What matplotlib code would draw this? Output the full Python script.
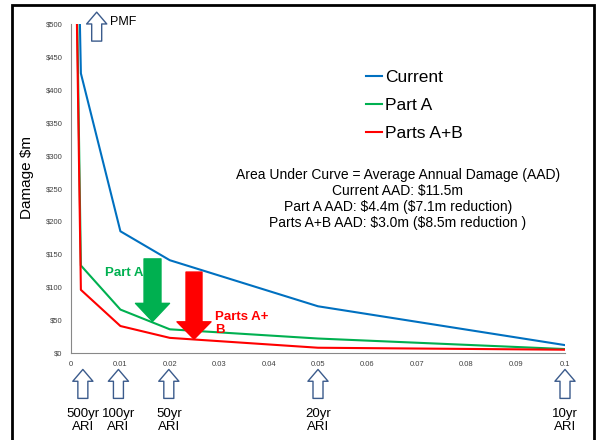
import matplotlib.pyplot as plt
from matplotlib.patches import Rectangle

plt.rcParams['font.family'] = ['Liberation Sans', 'DejaVu Sans']
plt.rcParams['text.parse_math'] = False

# exceedance probability (first point = PMF, off the top of the chart)
aep = [0.0001, 0.002, 0.01, 0.02, 0.05, 0.1]
current = [1140, 425, 185, 141, 71, 12]
part_a = [1100, 133, 66, 36, 22, 6]
parts_ab = [1056, 96, 41, 23, 8, 5]

xticks = [0, 0.01, 0.02, 0.03, 0.04, 0.05, 0.06, 0.07, 0.08, 0.09, 0.1]
xticklabels = ['0', '0.01', '0.02', '0.03', '0.04', '0.05', '0.06', '0.07', '0.08', '0.09', '0.1']
yticks = list(range(0, 501, 50))
yticklabels = ['$' + str(v) for v in yticks]

ari_x = [0.0024, 0.0096, 0.0198, 0.05, 0.1]
ari_labels = ['500yr\nARI', '100yr\nARI', '50yr\nARI', '20yr\nARI', '10yr\nARI']

blue = '#0070c0'
green = '#00b050'
red = '#ff0000'
navy = '#3b5b8c'

fig = plt.figure(figsize=(5.96, 4.40), dpi=100)
ax = fig.add_axes([71 / 596, 1 - 353 / 440, 494 / 596, 329 / 440])

ax.plot(aep, current, color=blue, lw=1.5, label='Current')
ax.plot(aep, part_a, color=green, lw=1.5, label='Part A')
ax.plot(aep, parts_ab, color=red, lw=1.5, label='Parts A+B')

ax.set_xlim(0, 0.1)
ax.set_ylim(0, 500)
ax.set_xticks(xticks)
ax.set_xticklabels(xticklabels)
ax.set_yticks(yticks)
ax.set_yticklabels(yticklabels)
ax.tick_params(length=0, labelsize=5.5, labelcolor='#404040')
ax.tick_params(axis='y', pad=6)
ax.tick_params(axis='x', pad=6)
for s in ['top', 'right']:
    ax.spines[s].set_visible(False)
for s in ['left', 'bottom']:
    ax.spines[s].set_color('#888888')

fig.text(27 / 596, 1 - 177 / 440, 'Damage $m', rotation=90, fontsize=11,
         ha='center', va='center')

leg = ax.legend(loc='upper left', bbox_to_anchor=(366 / 596, 1 - 70 / 440),
                bbox_transform=fig.transFigure, frameon=False, fontsize=12.5,
                handlelength=0.9, handletextpad=0.2, labelspacing=0.75,
                borderpad=0, borderaxespad=0)

fig.text(398 / 596, 1 - 199 / 440,
         'Area Under Curve = Average Annual Damage (AAD)\n'
         'Current AAD: $11.5m\n'
         'Part A AAD: $4.4m ($7.1m reduction)\n'
         'Parts A+B AAD: $3.0m ($8.5m reduction )',
         ha='center', va='center', fontsize=10, linespacing=1.2)

# reduction arrows
ax.annotate('', xy=(0.0165, 48), xytext=(0.0165, 143),
            arrowprops=dict(arrowstyle='simple,tail_width=1.22,head_width=2.45,head_length=1.3',
                            color=green, shrinkA=0, shrinkB=0))
ax.annotate('', xy=(0.0249, 21), xytext=(0.0249, 123),
            arrowprops=dict(arrowstyle='simple,tail_width=1.15,head_width=2.45,head_length=1.25',
                            color=red, shrinkA=0, shrinkB=0))
ax.text(0.0069, 121, 'Part A', color=green, fontsize=9.5, fontweight='bold',
        ha='left', va='center')
ax.text(0.0292, 64, 'Parts A+\nB', color=red, fontsize=9.5, fontweight='bold',
        ha='left', va='top', linespacing=1.15)

# ARI arrows under the axis
hollow = dict(arrowstyle='simple,tail_width=0.72,head_width=1.45,head_length=0.85',
              fc='white', ec=navy, lw=1.0, shrinkA=0, shrinkB=0)
for xv, lab in zip(ari_x, ari_labels):
    ax.annotate('', xy=(xv, -0.05), xytext=(xv, -0.138),
                xycoords=('data', 'axes fraction'), textcoords=('data', 'axes fraction'),
                arrowprops=hollow, annotation_clip=False)
    ax.text(xv, -0.168, lab, transform=ax.get_xaxis_transform(), ha='center',
            va='top', fontsize=9.5, linespacing=1.1, clip_on=False)

# PMF arrow at the top
ax.annotate('', xy=(0.0052, 1.036), xytext=(0.0052, 0.948),
            xycoords=('data', 'axes fraction'), textcoords=('data', 'axes fraction'),
            arrowprops=hollow, annotation_clip=False)
ax.text(0.0079, 1.006, 'PMF', transform=ax.get_xaxis_transform(), ha='left',
        va='center', fontsize=9, clip_on=False)

# outer frame
fig.patches.append(Rectangle((12 / 596, -0.05), 582 / 596, 1 - 5 / 440 + 0.05,
                             transform=fig.transFigure, fill=False, ec='black',
                             lw=2, clip_on=False))

fig.savefig('out.png', dpi=100)
